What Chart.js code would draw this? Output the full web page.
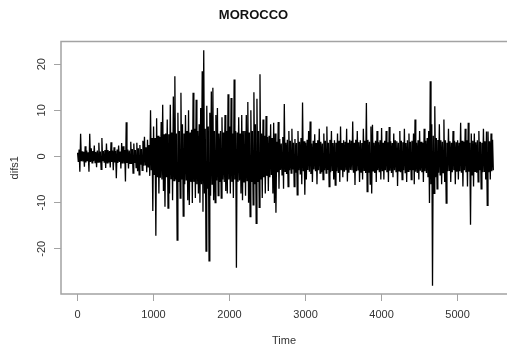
<!DOCTYPE html>
<html>
<head>
<meta charset="utf-8">
<script src="https://cdn.jsdelivr.net/npm/chart.js@4.4.1/dist/chart.umd.min.js"></script>
<style>
  html, body { margin: 0; padding: 0; background: #ffffff; }
  canvas { display: block; }
</style>
</head>
<body>
<canvas id="c" width="507" height="354"></canvas>
<script>
// ---- data (thinned series) ----
const chartTitle = "MOROCCO";
const xTitle = "Time";
const yTitle = "difs1";
const timeStart = 1;      // first time index
const binWidth = 20;      // time units per (high, low) pair
const xTicks = [0, 1000, 2000, 3000, 4000, 5000];
const yTicks = [-20, -10, 0, 10, 20];
const xRange = [-217, 5651];
const yRange = [-29.8, 24.9];

// upper swings of difs1, one per 20 time units
const difs1High = [
  0.8, 1.5, 4.9, 1.1, 1.0, 2.2, 1.3, 0.9, 4.9, 1.8,        // 0
  1.2, 2.4, 1.0, 1.3, 3.0, 1.1, 4.0, 1.2, 1.4, 2.8,        // 200
  1.4, 1.2, 3.1, 1.3, 2.0, 1.2, 1.5, 2.4, 1.1, 2.9,        // 400
  2.2, 1.4, 7.4, 1.5, 1.3, 3.2, 1.6, 2.8, 1.4, 3.0,        // 600
  1.8, 2.5, 1.6, 3.4, 4.3, 2.0, 3.6, 2.5, 10.0, 4.0,       // 800
  6.5, 4.0, 8.3, 4.5, 4.2, 7.5, 11.2, 4.8, 5.0, 8.0,       // 1000
  4.8, 11.2, 5.2, 13.0, 17.4, 5.0, 9.5, 5.5, 13.8, 7.0,    // 1200
  5.0, 9.0, 5.5, 10.0, 5.2, 5.8, 13.8, 6.0, 12.3, 5.5,     // 1400
  7.0, 10.5, 18.5, 23.0, 6.0, 11.0, 6.5, 9.5, 14.1, 14.9,  // 1600
  5.5, 9.0, 10.5, 5.0, 5.5, 8.5, 5.2, 9.0, 5.5, 13.5,      // 1800
  6.5, 12.7, 5.0, 16.7, 5.5, 5.2, 8.5, 5.0, 9.0, 5.5,      // 2000
  5.5, 9.0, 11.8, 5.2, 10.0, 5.5, 13.9, 7.0, 12.5, 5.5,    // 2200
  17.8, 5.0, 8.0, 4.5, 8.8, 4.2, 4.5, 7.0, 4.0, 7.3,       // 2400
  5.0, 3.2, 7.5, 3.8, 2.8, 4.2, 11.4, 3.0, 3.6, 5.5,       // 2600
  3.4, 6.0, 3.0, 3.8, 2.9, 5.5, 3.2, 4.0, 11.7, 3.3,       // 2800
  3.0, 3.6, 5.5, 7.6, 2.8, 3.4, 4.8, 2.9, 3.5, 6.0,        // 3000
  3.2, 2.8, 5.0, 3.4, 6.5, 3.0, 3.6, 5.5, 2.9, 3.5,        // 3200
  3.0, 5.0, 3.4, 6.5, 2.9, 3.5, 3.2, 6.0, 3.0, 3.6,        // 3400
  3.4, 7.6, 3.0, 3.6, 5.5, 3.1, 3.5, 2.9, 6.0, 3.4,        // 3600
  11.6, 3.6, 3.2, 6.5, 6.9, 3.0, 3.4, 5.5, 3.1, 3.5,       // 3800
  6.2, 3.0, 3.4, 5.5, 3.1, 6.4, 3.3, 2.9, 5.0, 3.5,        // 4000
  3.3, 3.0, 5.5, 3.4, 3.1, 6.0, 2.9, 3.5, 5.0, 3.2,        // 4200
  3.4, 5.0, 8.0, 3.0, 3.5, 5.5, 3.2, 3.0, 6.0, 3.4,        // 4400
  4.0, 5.5, 16.3, 7.0, 4.5, 10.9, 4.0, 3.6, 7.0, 3.5,      // 4600
  3.2, 8.0, 3.5, 3.0, 6.0, 3.3, 3.0, 5.5, 3.4, 3.1,        // 4800
  3.5, 3.0, 7.3, 3.4, 3.2, 6.0, 3.5, 7.3, 3.0, 5.0,        // 5000
  3.4, 5.0, 3.1, 3.5, 5.5, 3.2, 3.0, 6.0, 3.3, 5.4,        // 5200
  5.4, 3.3, 5.0, 3.6                                       // 5400
];

// lower swings of difs1, one per 20 time units (10 units after each high)
const difs1Low = [
  -1.2, -3.3, -1.0, -1.1, -2.2, -1.3, -1.0, -3.3, -1.2, -1.4,      // 0
  -1.0, -1.3, -2.3, -1.2, -1.3, -2.8, -1.0, -1.2, -2.5, -1.4,      // 200
  -1.3, -2.4, -1.2, -3.0, -1.3, -4.7, -1.4, -1.2, -2.6, -1.5,      // 400
  -1.5, -5.4, -1.4, -2.6, -1.5, -1.6, -3.6, -1.4, -2.4, -3.2,      // 600
  -4.0, -1.8, -3.0, -2.0, -1.8, -3.4, -2.4, -4.2, -3.0, -11.8,     // 800
  -4.0, -17.2, -4.5, -8.0, -4.6, -5.0, -7.5, -10.9, -4.5, -11.2,   // 1000
  -8.0, -4.8, -9.5, -5.2, -5.0, -18.1, -5.5, -9.0, -5.0, -12.9,    // 1200
  -6.0, -5.2, -9.5, -10.5, -5.5, -10.1, -5.5, -9.0, -6.0, -8.0,    // 1400
  -10.0, -6.0, -12.0, -8.0, -20.5, -7.0, -22.6, -8.5, -6.0, -9.5,  // 1600
  -10.0, -5.2, -8.5, -5.5, -9.0, -5.0, -5.5, -7.5, -8.0, -5.0,     // 1800
  -8.0, -5.5, -9.0, -5.0, -24.1, -5.5, -5.2, -8.0, -9.5, -5.5,     // 2000
  -8.5, -5.2, -10.0, -13.0, -5.5, -10.5, -6.0, -14.5, -5.5, -11.0, // 2200
  -5.0, -9.0, -4.5, -8.0, -4.2, -7.5, -4.5, -4.0, -8.0, -10.1,     // 2400
  -12.2, -3.4, -7.0, -2.9, -4.0, -7.0, -3.2, -3.8, -6.5, -3.0,     // 2600
  -3.6, -2.8, -6.5, -3.5, -8.3, -3.0, -3.9, -6.0, -3.2, -8.3,      // 2800
  -5.0, -2.9, -3.3, -3.8, -5.5, -2.8, -3.2, -6.0, -3.0, -3.6,      // 3000
  -3.4, -5.0, -3.0, -3.6, -2.9, -6.5, -3.4, -3.0, -5.0, -6.2,      // 3200
  -3.2, -3.6, -5.5, -3.0, -4.5, -3.3, -3.0, -5.4, -3.5, -2.9,      // 3400
  -3.0, -3.5, -6.2, -3.2, -2.9, -5.5, -3.4, -5.0, -3.0, -3.6,      // 3600
  -7.6, -3.5, -6.0, -8.0, -3.1, -3.6, -5.5, -3.0, -3.4, -5.0,      // 3800
  -3.2, -5.0, -3.0, -3.4, -5.5, -3.1, -3.6, -4.5, -3.0, -3.3,      // 4000
  -6.4, -3.1, -3.4, -5.0, -3.0, -3.5, -5.5, -3.2, -3.0, -5.0,      // 4200
  -3.0, -6.0, -3.3, -3.6, -5.0, -3.1, -3.4, -5.5, -3.2, -3.6,      // 4400
  -4.5, -10.1, -6.0, -28.0, -8.0, -4.5, -7.0, -3.5, -4.0, -6.0,    // 4600
  -3.5, -5.5, -10.1, -3.2, -3.0, -5.5, -3.4, -3.0, -6.0, -3.3,     // 4800
  -5.0, -3.2, -3.5, -6.5, -3.0, -3.4, -6.5, -3.3, -14.8, -4.0,     // 5000
  -6.5, -3.2, -3.5, -5.5, -3.0, -7.0, -3.4, -3.2, -5.0, -10.6,     // 5200
  -3.4, -5.0, -3.2, -3.0                                           // 5400
];

// ---- chart ----
const points = [];
difs1High.forEach((hi, i) => {
  const t = timeStart + i * binWidth;
  points.push({ x: t, y: hi });
  points.push({ x: t + binWidth / 2, y: difs1Low[i] });
});

const FONT = "'Liberation Sans', Arial, Helvetica, sans-serif";
const AXIS_GRAY = '#a3a3a3';
const TEXT = '#333333';

const boxPlugin = {
  id: 'rbox',
  afterDraw(chart) {
    const { ctx, chartArea: a } = chart;
    ctx.save();
    ctx.strokeStyle = AXIS_GRAY;
    ctx.lineWidth = 1.5;
    ctx.beginPath();
    ctx.moveTo(a.right + 2, a.top);
    ctx.lineTo(a.left, a.top);
    ctx.lineTo(a.left, a.bottom);
    ctx.lineTo(a.right + 2, a.bottom);
    ctx.stroke();
    // rotated y tick labels (R style)
    const ys = chart.scales.y;
    ctx.fillStyle = TEXT;
    ctx.font = "11px " + FONT;
    ctx.textAlign = 'center';
    ctx.textBaseline = 'alphabetic';
    yTicks.forEach(v => {
      const py = ys.getPixelForValue(v);
      ctx.save();
      ctx.translate(44.5, py);
      ctx.rotate(-Math.PI / 2);
      ctx.fillText(String(v), 0, 0);
      ctx.restore();
    });
    ctx.restore();
  }
};

new Chart(document.getElementById('c'), {
  type: 'line',
  data: {
    datasets: [{
      data: points,
      borderColor: '#000000',
      borderWidth: 1.3,
      borderJoinStyle: 'miter',
      pointRadius: 0,
      tension: 0,
      fill: false
    }]
  },
  options: {
    responsive: false,
    animation: false,
    devicePixelRatio: 1,
    layout: { padding: { top: 0, left: 0, right: 0, bottom: 0 } },
    plugins: {
      legend: { display: false },
      tooltip: { enabled: false },
      title: {
        display: true,
        text: chartTitle,
        color: '#111111',
        font: { family: FONT, size: 13, weight: 'bold' },
        padding: { top: 8, bottom: 18 }
      }
    },
    scales: {
      x: {
        type: 'linear',
        min: xRange[0],
        max: xRange[1],
        afterBuildTicks: s => { s.ticks = xTicks.map(v => ({ value: v })); },
        afterFit: s => { s.height = 60; },
        border: { display: false },
        grid: { drawOnChartArea: false, drawTicks: true, tickLength: 7, color: AXIS_GRAY, lineWidth: 1 },
        ticks: {
          color: TEXT, font: { family: FONT, size: 11 }, padding: 7,
          maxRotation: 0, minRotation: 0, autoSkip: false,
          callback: v => String(v)
        },
        title: {
          display: true, text: xTitle, color: TEXT,
          font: { family: FONT, size: 11 }, padding: { top: 0, bottom: 6 }
        }
      },
      y: {
        type: 'linear',
        min: yRange[0],
        max: yRange[1],
        afterBuildTicks: s => { s.ticks = yTicks.map(v => ({ value: v })); },
        afterFit: s => { s.width = 61; },
        border: { display: false },
        grid: { drawOnChartArea: false, drawTicks: true, tickLength: 7, color: AXIS_GRAY, lineWidth: 1 },
        ticks: { display: false },
        title: {
          display: true, text: yTitle, color: TEXT,
          font: { family: FONT, size: 11 }, padding: { top: 8, bottom: 0 }
        }
      }
    }
  },
  plugins: [boxPlugin]
});
</script>
</body>
</html>
